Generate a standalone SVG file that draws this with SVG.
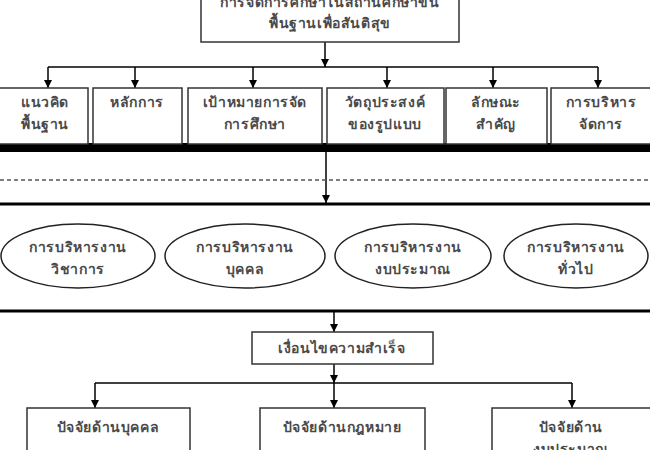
<svg xmlns="http://www.w3.org/2000/svg" width="650" height="450" viewBox="0 0 650 450">
<defs>
<style>
.box{fill:#fff;stroke:#333;stroke-width:1.5}
.ell{fill:#fff;stroke:#222;stroke-width:1.5}
.t{font-family:"Liberation Serif",serif;font-size:14px;font-weight:bold;letter-spacing:0.6px;fill:#4a4a4a;text-anchor:middle}
.ln{stroke:#000;stroke-width:1.5;fill:none}
.thick{stroke:#000;stroke-width:3;fill:none}
</style>
<marker id="ah" viewBox="0 0 10 10" refX="10" refY="5" markerWidth="8" markerHeight="8" markerUnits="userSpaceOnUse" orient="auto">
<path d="M0,0 L10,5 L0,10 z" fill="#000"/>
</marker>
</defs>
<rect width="650" height="450" fill="#fff"/>

<g id="connectors">
<line class="ln" x1="325" y1="42" x2="325" y2="67" marker-end="url(#ah)"/>
<line class="ln" x1="48" y1="67" x2="598" y2="67"/>
<line class="ln" x1="48" y1="67" x2="48" y2="88" marker-end="url(#ah)"/>
<line class="ln" x1="135" y1="67" x2="135" y2="88" marker-end="url(#ah)"/>
<line class="ln" x1="253" y1="67" x2="253" y2="88" marker-end="url(#ah)"/>
<line class="ln" x1="387" y1="67" x2="387" y2="88" marker-end="url(#ah)"/>
<line class="ln" x1="493" y1="67" x2="493" y2="88" marker-end="url(#ah)"/>
<line class="ln" x1="598" y1="67" x2="598" y2="88" marker-end="url(#ah)"/>
<rect x="0" y="143" width="650" height="9" fill="#000"/>
<line class="ln" x1="326" y1="152" x2="326" y2="203" marker-end="url(#ah)"/>
<line x1="0" y1="180" x2="650" y2="180" stroke="#555" stroke-width="1.5" stroke-dasharray="4 3"/>
<line class="thick" x1="0" y1="204" x2="650" y2="204"/>
<line class="thick" x1="0" y1="311" x2="650" y2="311"/>
<line class="ln" x1="334" y1="312" x2="334" y2="332" marker-end="url(#ah)"/>
<line class="ln" x1="334" y1="364" x2="334" y2="383" marker-end="url(#ah)"/>
<line class="ln" x1="95" y1="383" x2="572" y2="383"/>
<line class="ln" x1="95" y1="383" x2="95" y2="408" marker-end="url(#ah)"/>
<line class="ln" x1="334" y1="383" x2="334" y2="408" marker-end="url(#ah)"/>
<line class="ln" x1="572" y1="383" x2="572" y2="408" marker-end="url(#ah)"/>
</g>

<g id="top">
<rect class="box" x="201" y="-20" width="258" height="62" stroke-width="2"/>
<text class="t" x="330" y="7">การจัดการศึกษาในสถานศึกษาขั้น</text>
<text class="t" x="330" y="28">พื้นฐานเพื่อสันติสุข</text>
</g>

<g id="n1"><rect class="box" x="-2" y="88" width="90" height="56"/>
<text class="t" x="45" y="107">แนวคิด</text><text class="t" x="45" y="129">พื้นฐาน</text></g>
<g id="n2"><rect class="box" x="93" y="88" width="89" height="56"/>
<text class="t" x="137" y="107">หลักการ</text></g>
<g id="n3"><rect class="box" x="188" y="88" width="134" height="56"/>
<text class="t" x="255" y="107">เป้าหมายการจัด</text><text class="t" x="255" y="129">การศึกษา</text></g>
<g id="n4"><rect class="box" x="327" y="88" width="117" height="56"/>
<text class="t" x="385" y="107">วัตถุประสงค์</text><text class="t" x="385" y="129">ของรูปแบบ</text></g>
<g id="n5"><rect class="box" x="446" y="88" width="101" height="56"/>
<text class="t" x="496" y="107">ลักษณะ</text><text class="t" x="496" y="129">สำคัญ</text></g>
<g id="n6"><rect class="box" x="551" y="88" width="101" height="56"/>
<text class="t" x="601" y="107">การบริหาร</text><text class="t" x="601" y="129">จัดการ</text></g>

<g id="e1"><ellipse class="ell" cx="78" cy="256" rx="77" ry="32"/>
<text class="t" x="78" y="252">การบริหารงาน</text><text class="t" x="78" y="274">วิชาการ</text></g>
<g id="e2"><ellipse class="ell" cx="245" cy="256" rx="80" ry="32"/>
<text class="t" x="245" y="252">การบริหารงาน</text><text class="t" x="245" y="274">บุคคล</text></g>
<g id="e3"><ellipse class="ell" cx="413" cy="256" rx="78" ry="32"/>
<text class="t" x="413" y="252">การบริหารงาน</text><text class="t" x="413" y="274">งบประมาณ</text></g>
<g id="e4"><ellipse class="ell" cx="576" cy="256" rx="72" ry="32"/>
<text class="t" x="576" y="252">การบริหารงาน</text><text class="t" x="576" y="274">ทั่วไป</text></g>

<g id="cond"><rect class="box" x="252" y="332" width="181" height="32"/>
<text class="t" x="342" y="353">เงื่อนไขความสำเร็จ</text></g>

<g id="f1"><rect class="box" x="27" y="408" width="163" height="60"/>
<text class="t" x="108" y="432">ปัจจัยด้านบุคคล</text></g>
<g id="f2"><rect class="box" x="260" y="408" width="165" height="60"/>
<text class="t" x="342" y="432">ปัจจัยด้านกฎหมาย</text></g>
<g id="f3"><rect class="box" x="492" y="408" width="170" height="60"/>
<text class="t" x="571" y="432">ปัจจัยด้าน</text><text class="t" x="571" y="454">งบประมาณ</text></g>
</svg>
